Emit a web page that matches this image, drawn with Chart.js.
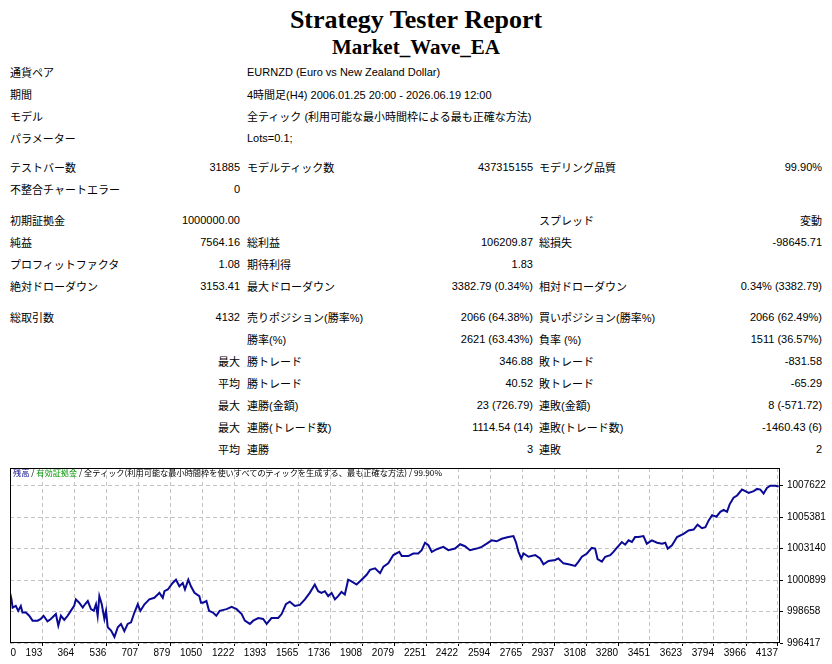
<!DOCTYPE html>
<html>
<head>
<meta charset="utf-8">
<title>Strategy Tester Report</title>
<script src="https://cdn.jsdelivr.net/npm/chart.js@4.4.0/dist/chart.umd.min.js"></script>
<style>
  body { margin: 0; background: #fff; color: #000; font-family: "Liberation Sans", "Noto Sans CJK JP", sans-serif; font-size: 11px; }
  .page { position: relative; width: 832px; height: 664px; overflow: hidden; }
  .title { position: absolute; left: 0; width: 832px; text-align: center; font-family: "Liberation Serif", serif; font-weight: bold; }
  .t1 { top: 4px; font-size: 26px; line-height: 32px; }
  .t2 { top: 35px; font-size: 21px; line-height: 24px; }
  table { position: absolute; left: 8px; top: 61px; width: 817px; border-collapse: collapse; table-layout: fixed; }
  td { height: 22px; padding: 0; white-space: nowrap; vertical-align: middle; overflow: visible; }
  td.l1 { padding-left: 2px; }
  td.v { text-align: right; padding-right: 3px; }
  td.l { padding-left: 4px; }
  td.l5 { padding-left: 3px; }
  tr.gap7 td { height: 7px; }
  tr.gap9 td { height: 9px; }
  #chartBox { position: absolute; left: 0; top: 458px; width: 832px; height: 206px; }
  #legend { position: absolute; left: 13px; top: 467px; font-family: "Noto Sans CJK JP", sans-serif; font-size: 8.2px; line-height: 11px; white-space: nowrap; }
</style>
</head>
<body>
<div class="page">
  <div class="title t1">Strategy Tester Report</div>
  <div class="title t2">Market_Wave_EA</div>

  <table>
    <colgroup>
      <col style="width:142px"><col style="width:93px"><col style="width:157px">
      <col style="width:136px"><col style="width:164px"><col style="width:125px">
    </colgroup>
    <tr><td class="l1">通貨ペア</td><td></td><td colspan="4" class="l">EURNZD (Euro vs New Zealand Dollar)</td></tr>
    <tr><td class="l1">期間</td><td></td><td colspan="4" class="l">4時間足(H4) 2006.01.25 20:00 - 2026.06.19 12:00</td></tr>
    <tr><td class="l1">モデル</td><td></td><td colspan="4" class="l">全ティック (利用可能な最小時間枠による最も正確な方法)</td></tr>
    <tr><td class="l1">パラメーター</td><td></td><td colspan="4" class="l">Lots=0.1;</td></tr>
    <tr class="gap7"><td colspan="6"></td></tr>
    <tr><td class="l1">テストバー数</td><td class="v">31885</td><td class="l">モデルティック数</td><td class="v">437315155</td><td class="l5">モデリング品質</td><td class="v">99.90%</td></tr>
    <tr><td class="l1">不整合チャートエラー</td><td class="v">0</td><td></td><td></td><td></td><td></td></tr>
    <tr class="gap9"><td colspan="6"></td></tr>
    <tr><td class="l1">初期証拠金</td><td class="v">1000000.00</td><td></td><td></td><td class="l5">スプレッド</td><td class="v">変動</td></tr>
    <tr><td class="l1">純益</td><td class="v">7564.16</td><td class="l">総利益</td><td class="v">106209.87</td><td class="l5">総損失</td><td class="v">-98645.71</td></tr>
    <tr><td class="l1">プロフィットファクタ</td><td class="v">1.08</td><td class="l">期待利得</td><td class="v">1.83</td><td></td><td></td></tr>
    <tr><td class="l1">絶対ドローダウン</td><td class="v">3153.41</td><td class="l">最大ドローダウン</td><td class="v">3382.79 (0.34%)</td><td class="l5">相対ドローダウン</td><td class="v">0.34% (3382.79)</td></tr>
    <tr class="gap9"><td colspan="6"></td></tr>
    <tr><td class="l1">総取引数</td><td class="v">4132</td><td class="l">売りポジション(勝率%)</td><td class="v">2066 (64.38%)</td><td class="l5">買いポジション(勝率%)</td><td class="v">2066 (62.49%)</td></tr>
    <tr><td></td><td></td><td class="l">勝率(%)</td><td class="v">2621 (63.43%)</td><td class="l5">負率 (%)</td><td class="v">1511 (36.57%)</td></tr>
    <tr><td></td><td class="v">最大</td><td class="l">勝トレード</td><td class="v">346.88</td><td class="l5">敗トレード</td><td class="v">-831.58</td></tr>
    <tr><td></td><td class="v">平均</td><td class="l">勝トレード</td><td class="v">40.52</td><td class="l5">敗トレード</td><td class="v">-65.29</td></tr>
    <tr><td></td><td class="v">最大</td><td class="l">連勝(金額)</td><td class="v">23 (726.79)</td><td class="l5">連敗(金額)</td><td class="v">8 (-571.72)</td></tr>
    <tr><td></td><td class="v">最大</td><td class="l">連勝(トレード数)</td><td class="v">1114.54 (14)</td><td class="l5">連敗(トレード数)</td><td class="v">-1460.43 (6)</td></tr>
    <tr><td></td><td class="v">平均</td><td class="l">連勝</td><td class="v">3</td><td class="l5">連敗</td><td class="v">2</td></tr>
  </table>

  <div id="chartBox"><canvas id="balanceChart"></canvas></div>
  <div id="legend"><span style="color:#0A0A8C">残高</span> / <span style="color:#0A9A0A">有効証拠金</span> / 全ティック(利用可能な最小時間枠を使いすべてのティックを生成する、最も正確な方法) / 99.90%</div>
</div>

<script>
// trade number
const tradeNo = [
  20, 28, 34, 51, 64, 78, 87, 105, 123, 141, 168, 185, 200, 221, 239, 266, 279, 293, 311, 329,
  346, 364, 373, 391, 410, 422, 437, 454, 469, 481, 490, 499, 512, 526, 535, 544, 562, 580, 598, 615,
  633, 651, 669, 687, 705, 719, 741, 767, 794, 821, 839, 848, 866, 892, 910, 928, 946, 958, 976, 990,
  1009, 1035, 1044, 1055, 1073, 1087, 1108, 1126, 1144, 1181, 1208, 1235, 1262, 1279, 1306, 1324, 1351, 1377, 1396, 1422,
  1458, 1476, 1499, 1520, 1547, 1574, 1601, 1627, 1654, 1672, 1690, 1708, 1726, 1744, 1762, 1779, 1797, 1815, 1833, 1851,
  1878, 1905, 1932, 1950, 1977, 2004, 2022, 2048, 2075, 2107, 2120, 2155, 2182, 2209, 2227, 2245, 2263, 2281, 2308, 2343,
  2370, 2406, 2433, 2459, 2486, 2522, 2549, 2576, 2602, 2629, 2656, 2692, 2719, 2732, 2746, 2761, 2773, 2800, 2836, 2862,
  2880, 2907, 2943, 2960, 2987, 3014, 3050, 3068, 3086, 3113, 3139, 3157, 3170, 3193, 3211, 3238, 3255, 3273, 3300, 3318,
  3336, 3354, 3371, 3389, 3416, 3434, 3461, 3489, 3516, 3533, 3546, 3569, 3596, 3631, 3658, 3685, 3706, 3730, 3748, 3765,
  3784, 3807, 3828, 3846, 3864, 3878, 3899, 3918, 3944, 3962, 3980, 4007, 4025, 4043, 4060, 4078, 4096, 4123, 4141
];

// balance after each trade
const balance = [
  1000000, 999526, 998938, 999057, 998707, 999057, 998588, 998588, 998357, 998007, 998007, 998126, 998357, 997958, 998126, 998476, 997657, 998357, 998056, 998357,
  998707, 999057, 999526, 999288, 998938, 999176, 999407, 998826, 998707, 999176, 998357, 999757, 999176, 998126, 998707, 997537, 997306, 996850, 997537, 997776,
  997257, 997776, 997888, 998588, 999176, 998707, 999176, 999526, 999638, 999989, 999638, 1000108, 1000227, 1000689, 1000927, 1000458, 1000689, 1000227, 1000927, 1000458,
  999989, 999757, 999288, 999288, 999407, 998707, 998588, 998357, 998707, 998826, 998987, 998826, 998476, 998007, 997776, 998007, 998196, 998126, 997776, 998196,
  998196, 998476, 999176, 999358, 999057, 999127, 999526, 999989, 1000577, 1000108, 999989, 1000108, 999757, 999989, 999526, 999757, 1000059, 999876, 1000927, 1000808,
  1000577, 1000927, 1001277, 1001627, 1001739, 1001389, 1001858, 1002089, 1002678, 1002909, 1002608, 1002608, 1002790, 1002790, 1003028, 1003560, 1003378, 1002909, 1003098, 1003259,
  1003028, 1003140, 1003448, 1003308, 1003028, 1003140, 1003259, 1003490, 1003728, 1003658, 1003840, 1003959, 1004029, 1003609, 1002909, 1002440, 1002790, 1002559, 1002678, 1002440,
  1002019, 1002258, 1002328, 1002440, 1002089, 1002019, 1001907, 1002208, 1002559, 1002790, 1003189, 1003140, 1002398, 1002208, 1002559, 1002678, 1002909, 1003189, 1003609, 1003420,
  1003728, 1003609, 1003959, 1003959, 1004029, 1003490, 1003728, 1003560, 1003490, 1003560, 1003140, 1003378, 1003959, 1004190, 1004428, 1004498, 1004849, 1004590, 1004660, 1005129,
  1005521, 1005409, 1005759, 1005899, 1005759, 1006291, 1006760, 1006922, 1007342, 1007230, 1007111, 1007230, 1007391, 1007342, 1007062, 1007461, 1007622, 1007622, 1007564
];

const xTickLabels = ['0', '193', '364', '536', '707', '879', '1050', '1222', '1393', '1565', '1736', '1908',
  '2079', '2251', '2422', '2594', '2765', '2937', '3108', '3280', '3451', '3623', '3794', '3966', '4137'];
const yTickValues = [996417, 998658, 1000899, 1003140, 1005381, 1007622];

const X_MIN = 20, X_MAX = 4148;
const Y_MIN = 996417, Y_MAX = 1008880;
const gridColor = '#c4c4c4';

const points = tradeNo.map((t, i) => ({ x: t, y: balance[i] }));

// black frame around the plot area
const framePlugin = {
  id: 'frame',
  afterDraw(chart) {
    const a = chart.chartArea;
    const ctx = chart.ctx;
    ctx.save();
    ctx.strokeStyle = '#000';
    ctx.lineWidth = 1;
    ctx.strokeRect(Math.round(a.left) + 0.5, Math.round(a.top) + 0.5,
      Math.round(a.right - a.left) - 1, Math.round(a.bottom - a.top) - 1);
    ctx.restore();
  }
};

new Chart(document.getElementById('balanceChart'), {
  type: 'line',
  data: {
    datasets: [{
      label: '残高',
      data: points,
      borderColor: '#0A0A96',
      borderWidth: 2,
      pointRadius: 0,
      tension: 0,
      fill: false
    }]
  },
  options: {
    responsive: true,
    maintainAspectRatio: false,
    animation: false,
    layout: { padding: { left: 10, top: 6, right: 0, bottom: 0 } },
    plugins: { legend: { display: false }, tooltip: { enabled: false } },
    scales: {
      x: {
        type: 'linear',
        min: X_MIN,
        max: X_MAX,
        afterBuildTicks: (scale) => {
          // first label sits just inside the left edge, the rest end at their grid line
          scale.ticks = xTickLabels.map((l, i) => ({ value: i === 0 ? X_MIN + 32 : Number(l) }));
        },
        afterFit: (scale) => { scale.height = 21; },
        ticks: {
          autoSkip: false,
          maxRotation: 0,
          align: 'end',
          padding: 1,
          color: '#000',
          font: { family: 'Liberation Sans', size: 10 },
          callback: (v, i) => xTickLabels[i]
        },
        grid: {
          color: (c) => c.index === 0 ? 'rgba(0,0,0,0)' : gridColor,
          tickColor: (c) => c.index === 0 ? 'rgba(0,0,0,0)' : '#000',
          tickBorderDash: [],
          tickLength: 3
        },
        border: { display: false, dash: [4, 3] }
      },
      y: {
        type: 'linear',
        position: 'right',
        min: Y_MIN,
        max: Y_MAX,
        afterBuildTicks: (scale) => {
          scale.ticks = yTickValues.map(v => ({ value: v }));
        },
        afterFit: (scale) => { scale.width = 52; },
        ticks: {
          padding: 4,
          color: '#000',
          font: { family: 'Liberation Sans', size: 10 },
          callback: (v) => String(v)
        },
        grid: {
          color: gridColor,
          tickColor: '#000',
          tickBorderDash: [],
          tickLength: 3
        },
        border: { display: false, dash: [4, 3] }
      }
    }
  },
  plugins: [framePlugin]
});
</script>
</body>
</html>
